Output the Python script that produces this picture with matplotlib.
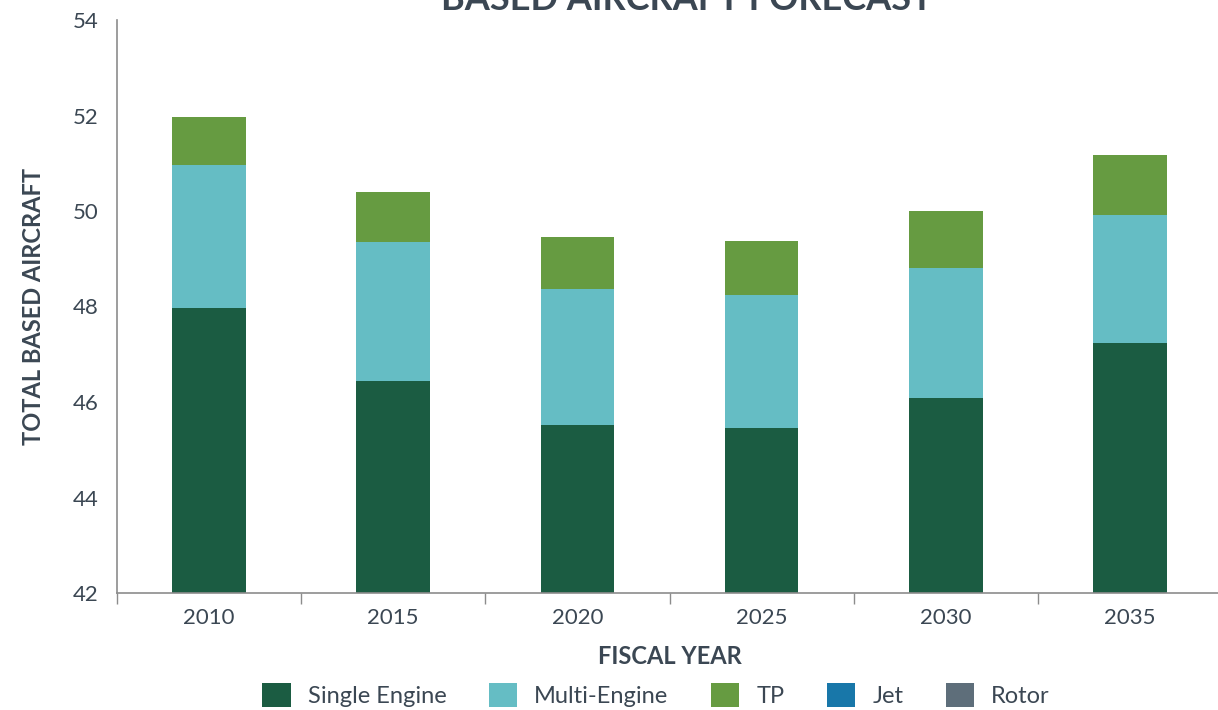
import matplotlib
matplotlib.use("Agg")
import matplotlib.pyplot as plt
from matplotlib.patches import Patch
import numpy as np

years = ["2010", "2015", "2020", "2025", "2030", "2035"]
single_engine = [47.97, 46.44, 45.52, 45.46, 46.08, 47.24]
multi_engine = [2.99, 2.91, 2.85, 2.78, 2.73, 2.68]
tp = [1.01, 1.05, 1.09, 1.13, 1.19, 1.25]
jet = [0, 0, 0, 0, 0, 0]
rotor = [0, 0, 0, 0, 0, 0]
series_names = ["Single Engine", "Multi-Engine", "TP", "Jet", "Rotor"]
colors = ["#1b5c42", "#65bdc4", "#669b41", "#1877a9", "#5e6e7a"]

plt.rcParams['font.family'] = ['Lato', 'DejaVu Sans']
text_color = "#3b4753"

fig = plt.figure(figsize=(12.18, 7.10), dpi=100)
ax = fig.add_axes([117/1218, 1 - 593/710, (1222-117)/1218, (593-20)/710])

x = np.arange(len(years))
w = 0.40
bottom = np.zeros(len(years))
for vals, c in zip([single_engine, multi_engine, tp, jet, rotor], colors):
    ax.bar(x, vals, w, bottom=bottom, color=c, zorder=2)
    bottom += np.array(vals)

ax.set_ylim(42, 54)
ax.set_xlim(-0.5, len(years) - 0.5)
ax.set_yticks(range(42, 55, 2))
ax.set_xticks(x)
ax.set_xticklabels(years)
ax.set_xticks(np.arange(-0.5, len(years), 1), minor=True)
ax.tick_params(axis='x', which='major', length=0, pad=11, labelsize=16, labelcolor=text_color)
ax.tick_params(axis='x', which='minor', length=8, color="#8c8c8c", width=1)
ax.tick_params(axis='y', length=0, pad=13, labelsize=16, labelcolor=text_color)
for s in ["top", "right"]:
    ax.spines[s].set_visible(False)
for s in ["left", "bottom"]:
    ax.spines[s].set_color("#8c8c8c")
    ax.spines[s].set_linewidth(1.2)

ax.set_xlabel("FISCAL YEAR", fontsize=17, fontweight='bold', color=text_color, labelpad=12)
ax.set_ylabel("TOTAL BASED AIRCRAFT", fontsize=17, fontweight='bold', color=text_color, labelpad=20)

fig.text(687/1218, 1 - 0/710, "BASED AIRCRAFT FORECAST", ha='center', va='center',
         fontsize=26, fontweight='bold', color=text_color)

handles = [Patch(facecolor=c, edgecolor='none') for c in colors]
fig.legend(handles, series_names, loc='center', bbox_to_anchor=(656/1218, 1 - 695/710),
           ncol=5, frameon=False, fontsize=17, labelcolor=text_color,
           handlelength=1.2, handleheight=1.2, handletextpad=0.72, columnspacing=1.8)

fig.savefig("out.png", dpi=100)
